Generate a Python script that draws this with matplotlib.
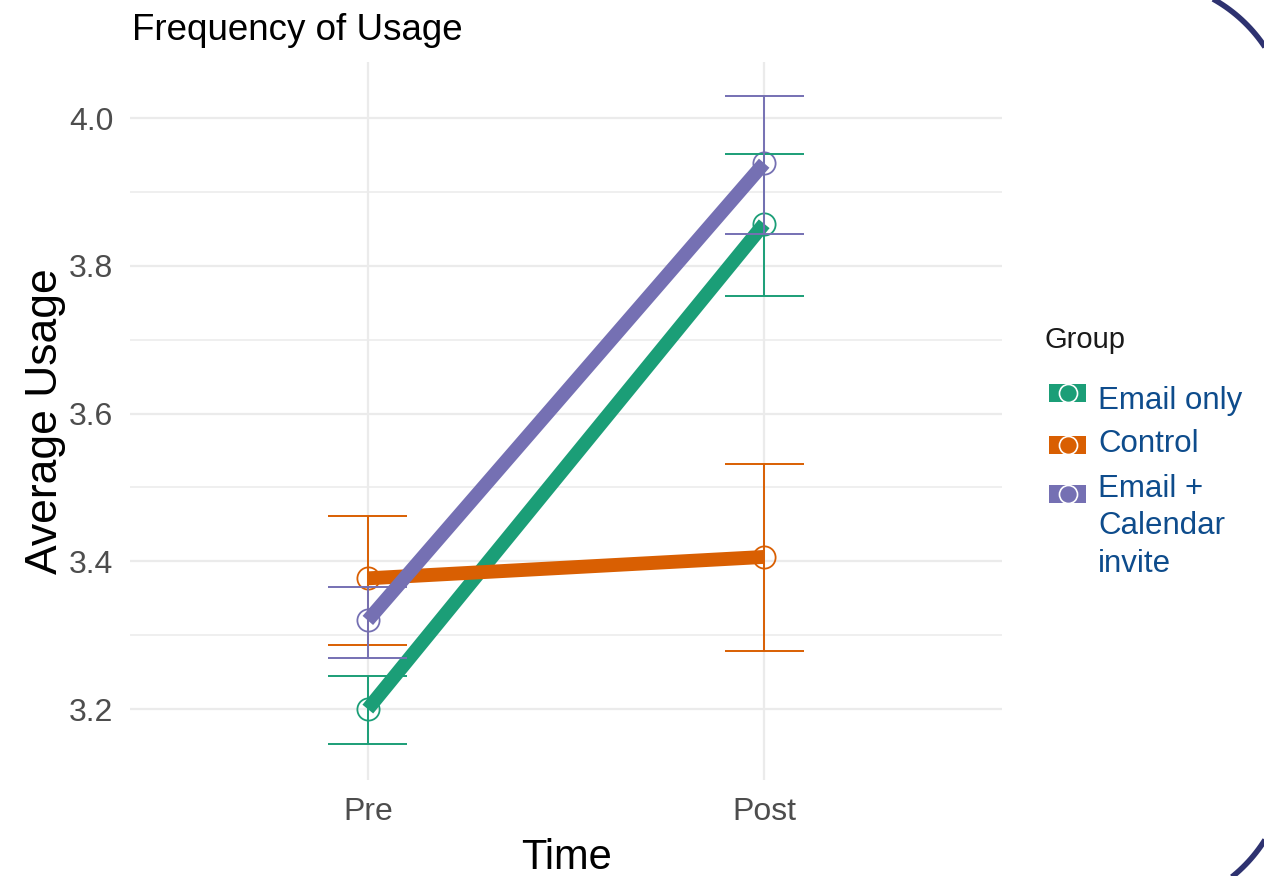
import numpy as np
import matplotlib
matplotlib.use('Agg')
import matplotlib.pyplot as plt
from matplotlib.patches import Rectangle

plt.rcParams['font.family'] = ['Liberation Sans', 'DejaVu Sans']

# средние и границы доверительных интервалов по группам
times = ['Pre', 'Post']
groups = ['Email only', 'Control', 'Email +\nCalendar\ninvite']
colors = ['#1B9E77', '#D95F02', '#7570B3']
means = {
    'Email only': [3.200, 3.857],
    'Control': [3.377, 3.406],
    'Email +\nCalendar\ninvite': [3.320, 3.939],
}
lower = {
    'Email only': [3.153, 3.759],
    'Control': [3.287, 3.279],
    'Email +\nCalendar\ninvite': [3.269, 3.843],
}
upper = {
    'Email only': [3.245, 3.951],
    'Control': [3.461, 3.532],
    'Email +\nCalendar\ninvite': [3.365, 4.030],
}

W, H = 1264, 876
fig = plt.figure(figsize=(W / 100, H / 100), dpi=100)
ax = fig.add_axes([130 / W, 1 - 780 / H, 872 / W, 718 / H])

x = np.arange(len(times))
for g, c in zip(groups, colors):
    ax.plot(x, means[g], color=c, lw=10, solid_capstyle='butt', zorder=3)
    ax.plot(x, means[g], 'o', ms=16, mfc='none', mec=c, mew=1.3, zorder=4)
    ax.vlines(x, lower[g], upper[g], color=c, lw=1.4, zorder=5)
    ax.hlines(lower[g], x - 0.1, x + 0.1, color=c, lw=1.4, zorder=5)
    ax.hlines(upper[g], x - 0.1, x + 0.1, color=c, lw=1.4, zorder=5)

ax.set_xlim(-0.6, 1.6)
ax.set_ylim(3.104, 4.076)
ax.set_xticks(x)
ax.set_xticklabels(times)
ax.set_yticks([3.2, 3.4, 3.6, 3.8, 4.0])
ax.set_yticklabels(['3.2', '3.4', '3.6', '3.8', '4.0'])
ax.set_yticks([3.3, 3.5, 3.7, 3.9], minor=True)
ax.grid(True, which='major', color='#ebebeb', lw=1.6)
ax.grid(True, which='minor', axis='y', color='#ebebeb', lw=1.1)
ax.set_axisbelow(True)
for s in ax.spines.values():
    s.set_visible(False)
ax.tick_params(length=0, labelsize=23, labelcolor='#4d4d4d', pad=12)
ax.tick_params(axis='y', which='minor', length=0)

ax.set_xlabel('Time', fontsize=30, color='black', labelpad=8)
ax.set_ylabel('Average Usage', fontsize=32, color='black', labelpad=2)
ax.set_title('Frequency of Usage', fontsize=26.5, loc='left', pad=16,
             x=2 / 872)

# легенда и рамка в пиксельных координатах
ov = fig.add_axes([0, 0, 1, 1], zorder=10)
ov.set_xlim(0, W)
ov.set_ylim(H, 0)
ov.axis('off')
ov.text(1045, 340, 'Group', fontsize=21, color='#1a1a1a', va='center')
key_y = [393, 445, 494]
text_y = [401, 444, 474]
for g, c, ky, ty in zip(groups, colors, key_y, text_y):
    ov.add_patch(Rectangle((1049, ky - 9), 37, 18, color=c, lw=0))
    ov.plot(1067.5, ky, 'o', ms=13, mfc=c, mec='white', mew=1.2)
    ov.text(1098, ty, g, fontsize=22.5, color='#0e4c8c',
            va='top' if '\n' in g else 'center', linespacing=1.32)

R = 150
t = np.linspace(-np.pi / 2, 0, 60)
ov.plot(1140 + R * np.cos(t), 130 + R * np.sin(t), color='#2e3270', lw=4,
        solid_capstyle='butt', clip_on=False)
t = np.linspace(0, np.pi / 2, 60)
ov.plot(1138 + R * np.cos(t), 760 + R * np.sin(t), color='#2e3270', lw=4,
        solid_capstyle='butt', clip_on=False)

fig.savefig('out.png', dpi=100)
